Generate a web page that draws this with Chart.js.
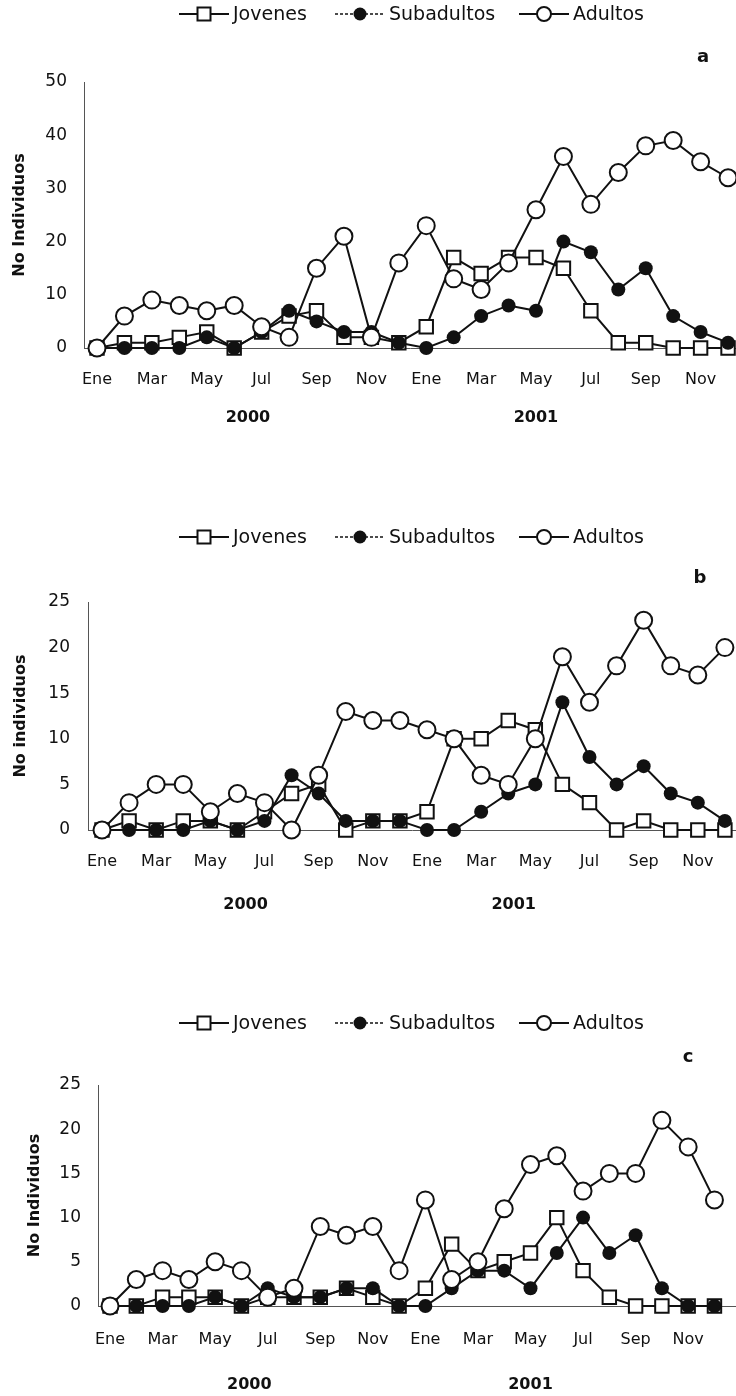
<!DOCTYPE html>
<html>
<head>
<meta charset="utf-8">
<script src="https://cdn.jsdelivr.net/npm/chart.js@4/dist/chart.umd.min.js"></script>
<style>
  html, body { margin: 0; padding: 0; background: #fff; }
  body { width: 736px; height: 1396px; position: relative; overflow: hidden; }
  canvas { position: absolute; left: 0; }
</style>
</head>
<body>
<canvas id="panelA" width="736" height="460" style="top:0px"></canvas>
<canvas id="panelB" width="736" height="460" style="top:480px"></canvas>
<canvas id="panelC" width="736" height="436" style="top:960px"></canvas>
<script>
// Months, Jan 2000 - Dec 2001
const months = ['Ene','Feb','Mar','Abr','May','Jun','Jul','Ago','Sep','Oct','Nov','Dic',
                'Ene','Feb','Mar','Abr','May','Jun','Jul','Ago','Sep','Oct','Nov','Dic'];
const labelledMonths = [0, 2, 4, 6, 8, 10, 12, 14, 16, 18, 20, 22];
const years = ['2000', '2001'];
const seriesNames = ['Jovenes', 'Subadultos', 'Adultos'];

// Panel a
const jovenesA    = [0,1,1,2,3,0,3,6,7,2,2,1,4,17,14,17,17,15,7,1,1,0,0,0];
const subadultosA = [0,0,0,0,2,0,3,7,5,3,3,1,0,2,6,8,7,20,18,11,15,6,3,1];
const adultosA    = [0,6,9,8,7,8,4,2,15,21,2,16,23,13,11,16,26,36,27,33,38,39,35,32];

// Panel b
const jovenesB    = [0,1,0,1,1,0,2,4,5,0,1,1,2,10,10,12,11,5,3,0,1,0,0,0];
const subadultosB = [0,0,0,0,1,0,1,6,4,1,1,1,0,0,2,4,5,14,8,5,7,4,3,1];
const adultosB    = [0,3,5,5,2,4,3,0,6,13,12,12,11,10,6,5,10,19,14,18,23,18,17,20];

// Panel c
const jovenesC    = [0,0,1,1,1,0,1,1,1,2,1,0,2,7,4,5,6,10,4,1,0,0,0,0];
const subadultosC = [0,0,0,0,1,0,2,1,1,2,2,0,0,2,4,4,2,6,10,6,8,2,0,0];
const adultosC    = [0,3,4,3,5,4,1,2,9,8,9,4,12,3,5,11,16,17,13,15,15,21,18,12];

const FONT = '"DejaVu Sans", "Liberation Sans", Arial, sans-serif';
const INK = '#111';

// Marker drawing shared by the legend
function drawMarker(ctx, kind, x, y) {
  ctx.save();
  ctx.lineWidth = 2;
  ctx.strokeStyle = INK;
  if (kind === 'square') {
    ctx.fillStyle = '#fff';
    ctx.fillRect(x - 6.5, y - 6.5, 13, 13);
    ctx.strokeRect(x - 6.5, y - 6.5, 13, 13);
  } else if (kind === 'dot') {
    ctx.fillStyle = INK;
    ctx.beginPath(); ctx.arc(x, y, 6.5, 0, Math.PI * 2); ctx.fill();
  } else {
    ctx.fillStyle = '#fff';
    ctx.beginPath(); ctx.arc(x, y, 7, 0, Math.PI * 2); ctx.fill(); ctx.stroke();
  }
  ctx.restore();
}

// Legend row, panel letter, year captions and rotated axis title
const panelDecor = {
  id: 'panelDecor',
  afterDraw(chart, args, o) {
    const ctx = chart.ctx;
    const ca = chart.chartArea;
    const x = chart.scales.x;
    ctx.save();
    ctx.fillStyle = INK;
    ctx.strokeStyle = INK;

    // legend
    const kinds = ['square', 'dot', 'ring'];
    ctx.font = '19px ' + FONT;
    ctx.textBaseline = 'middle';
    ctx.textAlign = 'left';
    seriesNames.forEach((name, i) => {
      const tx = o.legendText[i];
      const x0 = tx - 54, x1 = tx - 4, mx = (x0 + x1) / 2;
      ctx.save();
      ctx.lineWidth = i === 1 ? 1.5 : 2;
      if (i === 1) ctx.setLineDash([3, 2]);
      ctx.beginPath(); ctx.moveTo(x0, o.legendY); ctx.lineTo(x1, o.legendY); ctx.stroke();
      ctx.restore();
      drawMarker(ctx, kinds[i], mx, o.legendY);
      ctx.fillText(name, tx, o.legendY + 1);
    });

    // panel letter
    ctx.font = 'bold 18px ' + FONT;
    ctx.textAlign = 'center';
    ctx.fillText(o.letter, o.letterX, o.letterY);

    // years under the month axis
    ctx.font = 'bold 16px ' + FONT;
    years.forEach((yr, i) => {
      ctx.fillText(yr, x.getPixelForValue(o.yearAt[i]), o.yearY);
    });

    // y axis title
    ctx.save();
    ctx.translate(o.titleX, (ca.top + ca.bottom) / 2);
    ctx.rotate(-Math.PI / 2);
    ctx.font = 'bold 16px ' + FONT;
    ctx.fillText(o.title, 0, 0);
    ctx.restore();

    ctx.restore();
  }
};

function seriesPoints(values) {
  return values.map((v, i) => ({ x: i, y: v }));
}

function buildPanel(id, jov, sub, adu, yMax, yStep, L) {
  const common = { borderColor: INK, borderWidth: 2, clip: false, tension: 0 };
  new Chart(document.getElementById(id), {
    type: 'line',
    data: {
      datasets: [
        Object.assign({}, common, {
          label: seriesNames[0], data: seriesPoints(jov), order: 2,
          pointStyle: 'rect', pointRadius: 9.5, pointBackgroundColor: '#fff',
          pointBorderColor: INK, pointBorderWidth: 2
        }),
        Object.assign({}, common, {
          label: seriesNames[1], data: seriesPoints(sub), order: 1,
          pointStyle: 'circle', pointRadius: 7, pointBackgroundColor: INK,
          pointBorderColor: INK, pointBorderWidth: 0
        }),
        Object.assign({}, common, {
          label: seriesNames[2], data: seriesPoints(adu), order: 0,
          pointStyle: 'circle', pointRadius: 8.5, pointBackgroundColor: '#fff',
          pointBorderColor: INK, pointBorderWidth: 2
        })
      ]
    },
    options: {
      responsive: false,
      animation: false,
      devicePixelRatio: 1,
      layout: { autoPadding: false, padding: { left: 0, right: 0, top: L.top, bottom: 0 } },
      plugins: {
        legend: { display: false },
        tooltip: { enabled: false },
        panelDecor: L.decor
      },
      scales: {
        x: {
          type: 'linear',
          min: L.xMin, max: L.xMax,
          afterFit: s => { s.height = L.xHeight; s.paddingLeft = 0; s.paddingRight = 0; },
          afterBuildTicks: s => { s.ticks = labelledMonths.map(v => ({ value: v })); },
          grid: { display: false, drawTicks: false },
          border: { display: true, color: '#555', width: 1 },
          ticks: {
            autoSkip: false, maxRotation: 0, padding: L.xPad, color: INK,
            font: { family: FONT, size: 16 },
            callback: v => months[v]
          }
        },
        y: {
          min: 0, max: yMax,
          afterFit: s => { s.width = L.yWidth; s.paddingTop = 0; s.paddingBottom = 0; },
          grid: { display: false, drawTicks: false },
          border: { display: true, color: '#555', width: 1 },
          ticks: {
            stepSize: yStep, padding: L.yPad, color: INK,
            font: { family: FONT, size: 17 }
          }
        }
      }
    },
    plugins: [panelDecor]
  });
}

const legendText = [233, 389, 573];

buildPanel('panelA', jovenesA, subadultosA, adultosA, 50, 10, {
  top: 82, xHeight: 112, yWidth: 84, xMin: -0.474, xMax: 23.29, xPad: 22, yPad: 17,
  decor: { legendY: 14, legendText: legendText, letter: 'a', letterX: 703, letterY: 57,
           yearY: 418, yearAt: [5.5, 16], title: 'No Individuos', titleX: 20 }
});

buildPanel('panelB', jovenesB, subadultosB, adultosB, 25, 5, {
  top: 122, xHeight: 110, yWidth: 88, xMin: -0.517, xMax: 23.41, xPad: 22, yPad: 18,
  decor: { legendY: 57, legendText: legendText, letter: 'b', letterX: 700, letterY: 98,
           yearY: 425, yearAt: [5.3, 15.2], title: 'No individuos', titleX: 21 }
});

buildPanel('panelC', jovenesC, subadultosC, adultosC, 25, 5, {
  top: 125, xHeight: 90, yWidth: 98, xMin: -0.458, xMax: 23.82, xPad: 24, yPad: 17,
  decor: { legendY: 63, legendText: legendText, letter: 'c', letterX: 688, letterY: 97,
           yearY: 425, yearAt: [5.3, 16], title: 'No Individuos', titleX: 35 }
});
</script>
</body>
</html>
